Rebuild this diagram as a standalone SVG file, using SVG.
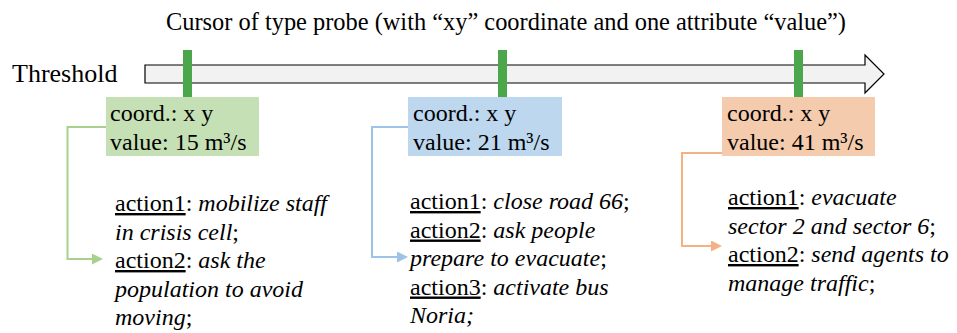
<svg xmlns="http://www.w3.org/2000/svg" width="957" height="333" viewBox="0 0 957 333" font-family="'Liberation Serif', 'Times New Roman', 'DejaVu Serif', serif">
<style>
text{font-family:'Liberation Serif','Times New Roman','DejaVu Serif',serif;fill:#000}
.title{font-size:24.4px}
.thr{font-size:26px}
.bx{font-size:24px}
.act{font-size:24px}
.u{text-decoration:underline}
.i{font-style:italic}
.probe{fill:#4ca64c}
.conn{fill:none;stroke-width:2}
</style>
<defs>
<marker id="ag" markerUnits="userSpaceOnUse" markerWidth="11" markerHeight="11" refX="1" refY="5.5" orient="auto"><path d="M0,0 L11,5.5 L0,11 z" fill="#a9d18e"/></marker>
<marker id="ab" markerUnits="userSpaceOnUse" markerWidth="11" markerHeight="11" refX="1" refY="5.5" orient="auto"><path d="M0,0 L11,5.5 L0,11 z" fill="#9dc3e6"/></marker>
<marker id="ao" markerUnits="userSpaceOnUse" markerWidth="11" markerHeight="11" refX="1" refY="5.5" orient="auto"><path d="M0,0 L11,5.5 L0,11 z" fill="#f4b183"/></marker>
</defs>
<rect width="957" height="333" fill="#fff"/>
<text class="title" x="506" y="30" text-anchor="middle">Cursor of type probe (with “xy” coordinate and one attribute “value”)</text>
<g id="threshold">
<text class="thr" x="12" y="82">Threshold</text>
<polygon points="145,65 865,65 865,55 884,74 865,93 865,83 145,83 " fill="#f2f2f2" stroke="#000" stroke-width="1.2"/>
</g>
<g id="connectors">
<path class="conn" d="M106,127 H67.5 V259 H93" stroke="#a9d18e" marker-end="url(#ag)"/>
<path class="conn" d="M408,127 H372 V257 H398" stroke="#9dc3e6" marker-end="url(#ab)"/>
<path class="conn" d="M723,128 V153 H682 V246 H712" stroke="#f4b183" marker-end="url(#ao)"/>
</g>
<g id="probe1">
<rect class="probe" x="183" y="50" width="9" height="47"/>
<rect x="106" y="97" width="153" height="59" fill="#c5e0b4"/>
<text class="bx" x="110" y="121">coord.: x y</text>
<text class="bx" x="110" y="150">value: 15 m³/s</text>
</g>
<g id="probe2">
<rect class="probe" x="498" y="50" width="9" height="47"/>
<rect x="408" y="97" width="154" height="59" fill="#bdd7ee"/>
<text class="bx" x="413" y="121">coord.: x y</text>
<text class="bx" x="413" y="150">value: 21 m³/s</text>
</g>
<g id="probe3">
<rect class="probe" x="794" y="50" width="9" height="47"/>
<rect x="722" y="97" width="153" height="59" fill="#f4cbad"/>
<text class="bx" x="727" y="121">coord.: x y</text>
<text class="bx" x="727" y="150">value: 41 m³/s</text>
</g>
<g id="actions1">
<text class="act" x="115" y="211"><tspan class="u">action1</tspan>: <tspan class="i">mobilize staff</tspan></text>
<text class="act" x="115" y="239.5"><tspan class="i">in crisis cell</tspan>;</text>
<text class="act" x="115" y="268"><tspan class="u">action2</tspan>: <tspan class="i">ask the</tspan></text>
<text class="act" x="115" y="296.5"><tspan class="i">population to avoid</tspan></text>
<text class="act" x="115" y="325"><tspan class="i">moving</tspan>;</text>
</g>
<g id="actions2">
<text class="act" x="410" y="209"><tspan class="u">action1</tspan>: <tspan class="i">close road 66</tspan>;</text>
<text class="act" x="410" y="237.5"><tspan class="u">action2</tspan>: <tspan class="i">ask people</tspan></text>
<text class="act" x="410" y="266"><tspan class="i">prepare to evacuate</tspan>;</text>
<text class="act" x="410" y="294.5"><tspan class="u">action3</tspan>: <tspan class="i">activate bus</tspan></text>
<text class="act" x="410" y="323"><tspan class="i">Noria;</tspan></text>
</g>
<g id="actions3">
<text class="act" x="728" y="205"><tspan class="u">action1</tspan>: <tspan class="i">evacuate</tspan></text>
<text class="act" x="728" y="233.5"><tspan class="i">sector 2 and sector 6</tspan>;</text>
<text class="act" x="728" y="262"><tspan class="u">action2</tspan>: <tspan class="i">send agents to</tspan></text>
<text class="act" x="728" y="290.5"><tspan class="i">manage traffic</tspan>;</text>
</g>
</svg>
